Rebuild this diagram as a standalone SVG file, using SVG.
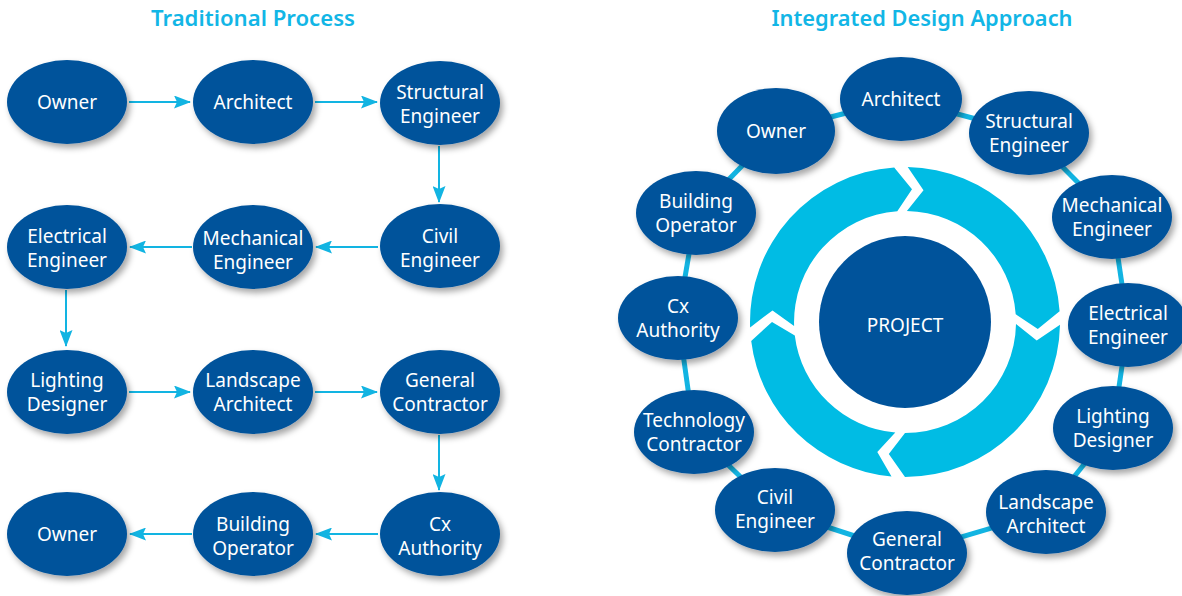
<svg xmlns="http://www.w3.org/2000/svg" width="1182" height="596" viewBox="0 0 1182 596">
<style>
.n ellipse{fill:#00539B;filter:url(#sh)}
.n text,.p text{fill:#fff;font-family:"Noto Sans","Open Sans",sans-serif;font-size:19px;text-anchor:middle}
.t{fill:#12B6E6;font-family:"Noto Sans","Open Sans",sans-serif;font-size:22px;font-weight:600;text-anchor:middle}
.a line{stroke:#12B4E2;stroke-width:2;marker-end:url(#ah)}
.r line{stroke:#12B4E2;stroke-width:5}
.ring path{fill:#00BCE4}
</style>
<defs>
<filter id="sh" x="-20%" y="-20%" width="150%" height="150%">
<feDropShadow dx="3" dy="4" stdDeviation="3" flood-color="#000" flood-opacity="0.35"/>
</filter>
<marker id="ah" viewBox="0 0 17 13" refX="16" refY="6.5" markerWidth="17" markerHeight="13" markerUnits="userSpaceOnUse" orient="auto">
<path d="M0,0 L17,6.5 L0,13 L3,6.5 Z" fill="#12B4E2"/>
</marker>
</defs>
<rect width="1182" height="596" fill="#fff"/>
<text class="t" x="253" y="26" textLength="204" lengthAdjust="spacingAndGlyphs">Traditional Process</text>
<text class="t" x="922" y="26" textLength="301" lengthAdjust="spacingAndGlyphs">Integrated Design Approach</text>

<g id="connectors-left" class="a">
<line x1="129" y1="102" x2="190" y2="102"/>
<line x1="315" y1="102" x2="377" y2="102"/>
<line x1="439" y1="146" x2="439" y2="202"/>
<line x1="378" y1="247" x2="316" y2="247"/>
<line x1="192" y1="247" x2="130" y2="247"/>
<line x1="66" y1="290" x2="66" y2="346"/>
<line x1="129" y1="392" x2="190" y2="392"/>
<line x1="315" y1="392" x2="377" y2="392"/>
<line x1="439" y1="435" x2="439" y2="490"/>
<line x1="378" y1="534" x2="316" y2="534"/>
<line x1="192" y1="534" x2="130" y2="534"/>
</g>

<g id="L-owner1" class="n"><ellipse cx="67" cy="102" rx="60" ry="42"/><text x="67" y="109">Owner</text></g>
<g id="L-architect" class="n"><ellipse cx="253" cy="102" rx="60" ry="42"/><text x="253" y="109">Architect</text></g>
<g id="L-structural" class="n"><ellipse cx="440" cy="103" rx="60" ry="42"/><text x="440" y="99">Structural</text><text x="440" y="123">Engineer</text></g>
<g id="L-electrical" class="n"><ellipse cx="67" cy="247" rx="60" ry="42"/><text x="67" y="243">Electrical</text><text x="67" y="267">Engineer</text></g>
<g id="L-mechanical" class="n"><ellipse cx="253" cy="247" rx="60" ry="42"/><text x="253" y="245">Mechanical</text><text x="253" y="269">Engineer</text></g>
<g id="L-civil" class="n"><ellipse cx="440" cy="246" rx="60" ry="42"/><text x="440" y="243">Civil</text><text x="440" y="267">Engineer</text></g>
<g id="L-lighting" class="n"><ellipse cx="67" cy="392" rx="60" ry="42"/><text x="67" y="387">Lighting</text><text x="67" y="411">Designer</text></g>
<g id="L-landscape" class="n"><ellipse cx="253" cy="392" rx="60" ry="42"/><text x="253" y="387">Landscape</text><text x="253" y="411">Architect</text></g>
<g id="L-general" class="n"><ellipse cx="440" cy="392" rx="60" ry="42"/><text x="440" y="387">General</text><text x="440" y="411">Contractor</text></g>
<g id="L-owner2" class="n"><ellipse cx="67" cy="534" rx="60" ry="42"/><text x="67" y="541">Owner</text></g>
<g id="L-building" class="n"><ellipse cx="253" cy="534" rx="60" ry="42"/><text x="253" y="531">Building</text><text x="253" y="555">Operator</text></g>
<g id="L-cx" class="n"><ellipse cx="440" cy="534" rx="60" ry="42"/><text x="440" y="531">Cx</text><text x="440" y="555">Authority</text></g>

<g id="connectors-right" class="r">
<line x1="901" y1="99" x2="1029" y2="133"/>
<line x1="1029" y1="133" x2="1112" y2="217"/>
<line x1="1112" y1="217" x2="1128" y2="325"/>
<line x1="1128" y1="325" x2="1113" y2="428"/>
<line x1="1113" y1="428" x2="1046" y2="512"/>
<line x1="1046" y1="512" x2="907" y2="553"/>
<line x1="907" y1="553" x2="775" y2="510"/>
<line x1="775" y1="510" x2="694" y2="432"/>
<line x1="694" y1="432" x2="678" y2="318"/>
<line x1="678" y1="318" x2="696" y2="213"/>
<line x1="696" y1="213" x2="776" y2="131"/>
<line x1="776" y1="131" x2="901" y2="99"/>
</g>

<g id="cycle" class="ring">
<path d="M907.7,167 A155,155 0 0 1 1059.6,311.2 L1037.8,329 L1015.7,314.3 A111,111 0 0 0 906.9,211 L923.5,190.3 Z"/>
<path d="M1060,324.7 A155,155 0 0 1 905,477 L888.8,454 L905,433 A111,111 0 0 0 1016,323.9 L1036.7,340.5 Z"/>
<path d="M891.5,476.4 A155,155 0 0 1 751.2,340.9 L772,322 L794.8,335.5 A111,111 0 0 0 895.3,432.6 L877.3,452.1 Z"/>
<path d="M750.1,327.4 A155,155 0 0 1 894.2,167.4 L912,189.2 L897.3,211.3 A111,111 0 0 0 794.1,325.9 L772.5,310.4 Z"/>
</g>
<g id="project" class="p"><circle cx="905" cy="322" r="86" fill="#00539B"/><text x="905" y="332">PROJECT</text></g>

<g id="R-architect" class="n"><ellipse cx="901" cy="99" rx="61" ry="42"/><text x="901" y="106">Architect</text></g>
<g id="R-structural" class="n"><ellipse cx="1029" cy="133" rx="60" ry="42"/><text x="1029" y="128">Structural</text><text x="1029" y="152">Engineer</text></g>
<g id="R-mechanical" class="n"><ellipse cx="1112" cy="217" rx="60" ry="42"/><text x="1112" y="212">Mechanical</text><text x="1112" y="236">Engineer</text></g>
<g id="R-electrical" class="n"><ellipse cx="1128" cy="325" rx="60" ry="42"/><text x="1128" y="320">Electrical</text><text x="1128" y="344">Engineer</text></g>
<g id="R-lighting" class="n"><ellipse cx="1113" cy="428" rx="60" ry="42"/><text x="1113" y="423">Lighting</text><text x="1113" y="447">Designer</text></g>
<g id="R-landscape" class="n"><ellipse cx="1046" cy="512" rx="60" ry="42"/><text x="1046" y="509">Landscape</text><text x="1046" y="533">Architect</text></g>
<g id="R-general" class="n"><ellipse cx="907" cy="553" rx="60" ry="42"/><text x="907" y="546">General</text><text x="907" y="570">Contractor</text></g>
<g id="R-civil" class="n"><ellipse cx="775" cy="510" rx="60" ry="42"/><text x="775" y="504">Civil</text><text x="775" y="528">Engineer</text></g>
<g id="R-technology" class="n"><ellipse cx="694" cy="432" rx="60" ry="42"/><text x="694" y="427">Technology</text><text x="694" y="451">Contractor</text></g>
<g id="R-cx" class="n"><ellipse cx="678" cy="318" rx="60" ry="42"/><text x="678" y="313">Cx</text><text x="678" y="337">Authority</text></g>
<g id="R-building" class="n"><ellipse cx="696" cy="213" rx="60" ry="42"/><text x="696" y="208">Building</text><text x="696" y="232">Operator</text></g>
<g id="R-owner" class="n"><ellipse cx="776" cy="131" rx="59" ry="43"/><text x="776" y="138">Owner</text></g>
</svg>
